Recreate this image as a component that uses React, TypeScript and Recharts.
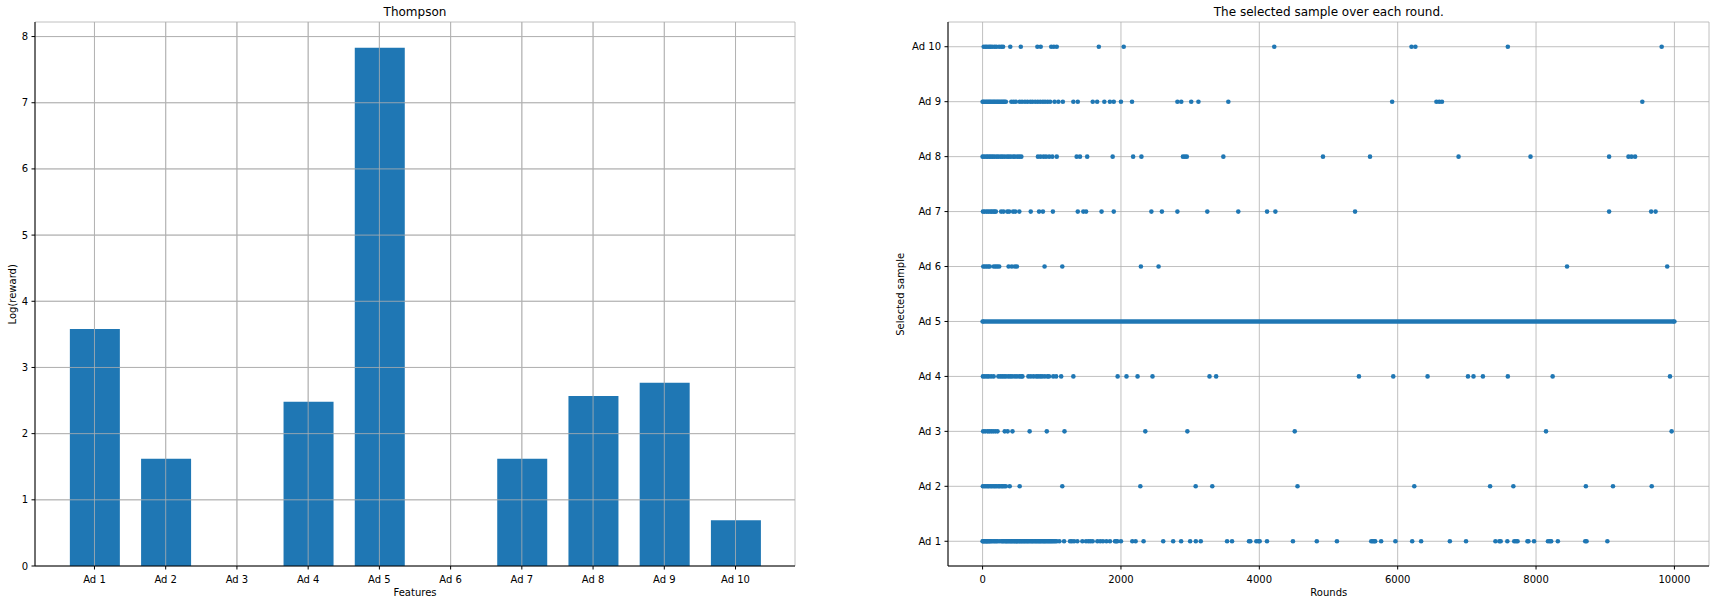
import React from 'react';
import {
  BarChart,
  Bar,
  ScatterChart,
  Scatter,
  XAxis,
  YAxis,
  CartesianGrid,
  ReferenceLine,
} from 'recharts';

// Left panel: log of the reward per ad
const adNames = ['Ad 1', 'Ad 2', 'Ad 3', 'Ad 4', 'Ad 5', 'Ad 6', 'Ad 7', 'Ad 8', 'Ad 9', 'Ad 10'];
const logRewards = [3.58, 1.62, 0, 2.48, 7.83, 0, 1.62, 2.57, 2.77, 0.69];
const rewardTicks = [0, 1, 2, 3, 4, 5, 6, 7, 8];

// Right panel: rounds in which each ad was selected
const ad1Rounds = [
  0, 9, 21, 33, 47, 58, 66, 79, 94, 103, 121, 137, 160, 178, 196, 214, 240, 268, 287, 301,
  322, 338, 349, 366, 381, 397, 412, 425, 441, 458, 469, 486, 497, 512, 530, 541, 559, 572,
  590, 604, 619, 637, 651, 666, 684, 701, 716, 730, 748, 765, 779, 796, 811, 826, 840, 857,
  873, 889, 902, 918, 935, 951, 966, 983, 998, 1015, 1033, 1051, 1072,
  1110, 1178, 1264, 1290, 1322, 1370, 1442, 1495, 1530, 1560, 1591, 1659, 1700, 1740, 1790,
  1841, 1914, 1930, 1947, 2000, 2164, 2212, 2327, 2611, 2755, 2870, 3000, 3082, 3154, 3534,
  3606, 3851, 3870, 3957, 3990, 4005, 4111, 4486, 4831, 5122, 5618, 5640, 5660, 5675, 5761,
  5967, 6210, 6339, 6754, 6988, 7413, 7470, 7489, 7585, 7685, 7710, 7733, 7876, 7890, 7971,
  8172, 8200, 8219, 8315, 8711, 8730, 9031,
];
const ad2Rounds = [
  4, 27, 49, 73, 92, 118, 137, 163, 181, 204, 229, 247, 272, 291, 313, 336,
  392, 536, 1152, 2280, 3080, 3320, 4552, 6240, 7336, 7672, 8720, 9112, 9672,
];
const ad3Rounds = [8, 37, 72, 96, 124, 152, 183, 216, 320, 362, 432, 680, 928, 1184, 2352, 2960, 4512, 8144, 9960];
const ad4Rounds = [
  5, 31, 62, 88, 123, 160, 228, 257, 284, 311, 338, 372, 401, 428, 466, 497, 533, 558, 576,
  662, 698, 737, 776, 803, 834, 862, 899, 938, 960, 1021, 1063, 1136,
  1312, 1952, 2080, 2240, 2456, 3280, 3376, 5440, 5936, 6432, 7016, 7096, 7232, 7592, 8240, 9936,
];
const ad5Rounds = [0, 10000];
const ad6Rounds = [10, 33, 58, 83, 104, 161, 188, 213, 240, 376, 423, 468, 496, 896, 1152, 2288, 2544, 8448, 9896];
const ad7Rounds = [
  5, 28, 57, 81, 108, 131, 152, 174, 192, 268, 302, 357, 384, 441, 472, 531,
  696, 816, 872, 1016, 1376, 1456, 1496, 1720, 1896, 2440, 2592, 2816, 3248, 3696, 4112, 4232,
  5384, 9056, 9664, 9728,
];
const ad8Rounds = [
  0, 23, 51, 74, 98, 122, 147, 171, 203, 228, 262, 287, 318, 352, 379, 408, 442, 468, 503, 531, 560,
  800, 838, 881, 917, 962, 1008, 1072, 1360, 1408, 1512, 1880, 2176, 2296, 2896, 2924, 2952, 3480,
  4920, 5600, 6880, 7920, 9056, 9336, 9380, 9432,
];
const ad9Rounds = [
  0, 14, 33, 52, 69, 88, 104, 121, 139, 158, 174, 193, 211, 228, 247, 266, 283, 301, 318, 336,
  416, 449, 480, 536, 571, 612, 648, 689, 721, 760, 797, 833, 871, 903, 940, 976,
  1040, 1096, 1160, 1312, 1376, 1592, 1656, 1760, 1840, 1896, 2000, 2160, 2816, 2872, 3016, 3120,
  3552, 5920, 6560, 6600, 6640, 9536,
];
const ad10Rounds = [
  16, 41, 64, 92, 113, 138, 171, 198, 238, 271, 296, 400, 552, 792, 840, 992, 1030, 1072,
  1680, 2040, 4216, 6200, 6256, 7592, 9816,
];
const roundTicks = [0, 2000, 4000, 6000, 8000, 10000];
const adTicks = [0, 1, 2, 3, 4, 5, 6, 7, 8, 9];

const selections = [
  ad1Rounds, ad2Rounds, ad3Rounds, ad4Rounds, ad5Rounds,
  ad6Rounds, ad7Rounds, ad8Rounds, ad9Rounds, ad10Rounds,
];

const BLUE = '#1f77b4';
const GRID = '#b0b0b0';
const FONT = 'DejaVu Sans';
const tickStyle = { fill: '#000', fontSize: 10, fontFamily: FONT };

const barData = adNames.map((name, i) => ({ pos: i, name, value: logRewards[i] }));

const Dot = (props: any) => <circle cx={props.cx} cy={props.cy} r={2.3} fill={BLUE} />;

const App: React.FC = () => {
  return (
    <div
      style={{
        position: 'absolute',
        left: 0,
        top: 0,
        width: 1719,
        height: 604,
        background: '#fff',
        fontFamily: FONT,
      }}
    >
      <div style={{ position: 'absolute', left: 0, top: 0 }}>
        <BarChart
          width={800}
          height={604}
          data={barData}
          margin={{ top: 22, right: 5, bottom: 8, left: 0 }}
          barSize={50}
        >
          <CartesianGrid stroke={GRID} strokeWidth={0.8} />
          <XAxis
            dataKey="pos"
            type="number"
            domain={[-0.835, 9.835]}
            ticks={adTicks}
            interval={0}
            tickFormatter={(v: number) => adNames[v]}
            height={30}
            tick={tickStyle}
            stroke="#000"
            tickSize={3.5}
            tickMargin={6}
          />
          <XAxis xAxisId="top" orientation="top" type="number" domain={[-0.835, 9.835]} height={0} tick={false} tickLine={false} stroke="#000" />
          <YAxis
            type="number"
            domain={[0, 8.22]}
            ticks={rewardTicks}
            width={35}
            tick={tickStyle}
            stroke="#000"
            tickSize={3.5}
            tickMargin={3.5}
          />
          <YAxis yAxisId="right" orientation="right" width={0} tick={false} tickLine={false} stroke="#000" />
          <Bar dataKey="value" fill={BLUE} isAnimationActive={false} />
          {/* matplotlib draws the grid over the bars */}
          {adTicks.map((t) => (
            <ReferenceLine key={'v' + t} x={t} stroke={GRID} strokeWidth={0.8} />
          ))}
          {rewardTicks.slice(1).map((t) => (
            <ReferenceLine key={'h' + t} y={t} stroke={GRID} strokeWidth={0.8} />
          ))}
        </BarChart>
      </div>

      <div style={{ position: 'absolute', left: 880, top: 0 }}>
        <ScatterChart width={839} height={604} margin={{ top: 22, right: 10, bottom: 8, left: 0 }}>
          <CartesianGrid stroke={GRID} strokeWidth={0.8} />
          <XAxis
            dataKey="round"
            type="number"
            domain={[-500, 10500]}
            ticks={roundTicks}
            interval={0}
            height={30}
            tick={tickStyle}
            stroke="#000"
            tickSize={3.5}
            tickMargin={6}
          />
          <XAxis xAxisId="top" orientation="top" type="number" domain={[-500, 10500]} height={0} tick={false} tickLine={false} stroke="#000" />
          <YAxis
            dataKey="ad"
            type="number"
            domain={[-0.45, 9.45]}
            ticks={adTicks}
            interval={0}
            tickFormatter={(v: number) => adNames[v]}
            width={68}
            tick={tickStyle}
            stroke="#000"
            tickSize={3.5}
            tickMargin={3.5}
          />
          <YAxis yAxisId="right" orientation="right" width={0} tick={false} tickLine={false} stroke="#000" />
          {selections.map((rounds, i) => (
            <Scatter
              key={adNames[i]}
              name={adNames[i]}
              data={rounds.map((r) => ({ round: r, ad: i }))}
              fill={BLUE}
              shape={Dot}
              line={i === 4 ? { stroke: BLUE, strokeWidth: 4.6 } : false}
              isAnimationActive={false}
            />
          ))}
        </ScatterChart>
      </div>

      <svg
        width={1719}
        height={604}
        style={{ position: 'absolute', left: 0, top: 0, pointerEvents: 'none' }}
        fontFamily={FONT}
      >
        <text x={415} y={16.3} fontSize={12} textAnchor="middle" fill="#000">Thompson</text>
        <text x={1328.8} y={16.3} fontSize={12} textAnchor="middle" fill="#000">
          The selected sample over each round.
        </text>
        <text x={415} y={595.5} fontSize={10} textAnchor="middle" fill="#000">Features</text>
        <text x={1328.8} y={595.5} fontSize={10} textAnchor="middle" fill="#000">Rounds</text>
        <text x={16} y={294.3} fontSize={10} textAnchor="middle" fill="#000" transform="rotate(-90 16 294.3)">
          Log(reward)
        </text>
        <text x={904} y={294.3} fontSize={10} textAnchor="middle" fill="#000" transform="rotate(-90 904 294.3)">
          Selected sample
        </text>
      </svg>
    </div>
  );
};

export default App;
